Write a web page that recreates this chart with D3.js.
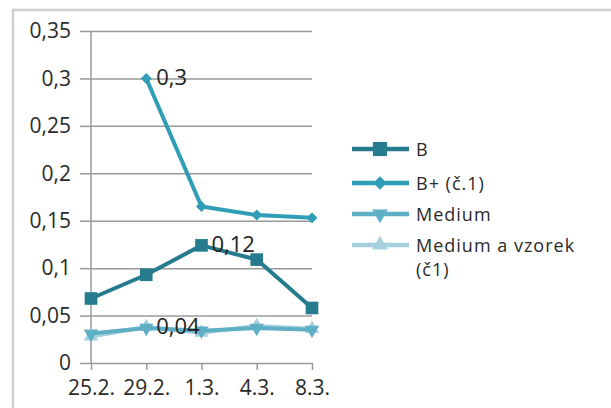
<!DOCTYPE html>
<html>
<head>
<meta charset="utf-8">
<script src="https://cdn.jsdelivr.net/npm/d3@7"></script>
<style>
  body { margin: 0; background: #fff; }
  svg { display: block; font-family: "Open Sans", "Liberation Sans", sans-serif; }
</style>
</head>
<body>
<svg id="chart" width="611" height="408"></svg>
<script>
const dates = ["25.2.", "29.2.", "1.3.", "4.3.", "8.3."];
const seriesNames = ["B", "B+ (č.1)", "Medium", "Medium a vzorek (č1)"];
const valuesB = [0.068, 0.093, 0.124, 0.109, 0.058];
const valuesBPlus = [null, 0.3, 0.165, 0.156, 0.153];
const valuesMedium = [0.031, 0.037, 0.034, 0.037, 0.035];
const valuesMediumVzorek = [0.028, 0.038, 0.032, 0.039, 0.036];
const yTicks = [0, 0.05, 0.1, 0.15, 0.2, 0.25, 0.3, 0.35];
// which points carry a data label: [series index, point index]
const labelled = [[1, 1], [0, 2], [3, 1]];

const allSeries = [valuesB, valuesBPlus, valuesMedium, valuesMediumVzorek];
const colors = ["#267b8e", "#2f9db6", "#5eafc5", "#a6d0dd"];
const markers = [d3.symbolSquare, d3.symbolSquare, d3.symbolTriangle, d3.symbolTriangle];
const markerRot = [0, 45, 180, 0];
const markerSize = [160, 60, 90, 90];

const svg = d3.select('#chart');

// outer frame (runs off right and bottom edges)
svg.append('rect')
  .attr('x', 13).attr('y', 10)
  .attr('width', 640).attr('height', 440)
  .attr('fill', 'none').attr('stroke', '#d0d0d0').attr('stroke-width', 2.5);

const x = d3.scalePoint().domain(dates).range([91, 312]);
const y = d3.scaleLinear().domain([0, 0.35]).range([363, 31]);

const fmt = d => d3.format('')(d).replace('.', ',');

// gridlines + y axis labels
const yAxis = svg.append('g')
  .attr('transform', 'translate(91,0)')
  .call(d3.axisLeft(y).tickValues(yTicks).tickFormat(fmt).tickSize(11).tickPadding(9));
yAxis.select('.domain').remove();
yAxis.attr('font-size', 21).attr('font-family', null);
yAxis.selectAll('text').attr('fill', '#2a2a2a');
yAxis.selectAll('line').attr('stroke', '#9a9a9a').attr('stroke-width', 1.5);
yAxis.selectAll('.tick').append('line')
  .attr('x1', 0).attr('x2', 312 - 91)
  .attr('stroke', '#9a9a9a').attr('stroke-width', 1.5);

// vertical axis line
svg.append('line')
  .attr('x1', 91).attr('x2', 91).attr('y1', y(0.35)).attr('y2', y(0))
  .attr('stroke', '#9a9a9a').attr('stroke-width', 1.5);

// x axis
const xAxis = svg.append('g')
  .attr('transform', `translate(0,${y(0)})`)
  .call(d3.axisBottom(x).tickSize(7).tickPadding(10));
xAxis.select('.domain').remove();
xAxis.attr('font-size', 21).attr('font-family', null);
xAxis.selectAll('text').attr('fill', '#2a2a2a');
xAxis.selectAll('line').attr('stroke', '#9a9a9a').attr('stroke-width', 1.5);

const line = d3.line()
  .defined(d => d != null)
  .x((d, i) => x(dates[i]))
  .y(d => y(d));

const order = [3, 2, 0, 1];
order.forEach(s => {
  const vals = allSeries[s];
  svg.append('path')
    .datum(vals)
    .attr('fill', 'none')
    .attr('stroke', colors[s])
    .attr('stroke-width', 4)
    .attr('stroke-linejoin', 'round')
    .attr('d', line);
  svg.append('g').selectAll('path')
    .data(vals.map((v, i) => [v, i]).filter(d => d[0] != null))
    .join('path')
      .attr('transform', d => `translate(${x(dates[d[1]])},${y(d[0])}) rotate(${markerRot[s]})`)
      .attr('d', d3.symbol().type(markers[s]).size(markerSize[s]))
      .attr('fill', colors[s]);
});

// data labels
svg.append('g').selectAll('text')
  .data(labelled)
  .join('text')
    .attr('x', d => x(dates[d[1]]) + 10)
    .attr('y', d => y(allSeries[d[0]][d[1]]) + 7)
    .attr('font-size', 22)
    .attr('fill', '#222')
    .text(d => fmt(Math.round(allSeries[d[0]][d[1]] * 100) / 100));

// legend
const legendRows = [149, 183, 214, 245];
const legend = svg.append('g');
seriesNames.forEach((name, s) => {
  const ly = legendRows[s];
  legend.append('line')
    .attr('x1', 352).attr('x2', 409).attr('y1', ly).attr('y2', ly)
    .attr('stroke', colors[s]).attr('stroke-width', 4.5);
  legend.append('path')
    .attr('transform', `translate(380,${ly}) rotate(${markerRot[s]})`)
    .attr('d', d3.symbol().type(markers[s]).size(s === 0 ? 200 : s === 1 ? 90 : 110))
    .attr('fill', colors[s]);
  if (s === 3) {
    legend.append('text')
      .attr('x', 416).attr('y', ly + 7)
      .attr('font-size', 18).attr('letter-spacing', 1).attr('fill', '#2a2a2a')
      .text('Medium a vzorek');
    legend.append('text')
      .attr('x', 416).attr('y', ly + 31)
      .attr('font-size', 18).attr('letter-spacing', 1).attr('fill', '#2a2a2a')
      .text('(č1)');
  } else {
    legend.append('text')
      .attr('x', 416).attr('y', ly + 7)
      .attr('font-size', 18).attr('letter-spacing', 1).attr('fill', '#2a2a2a')
      .text(name);
  }
});
</script>
</body>
</html>
